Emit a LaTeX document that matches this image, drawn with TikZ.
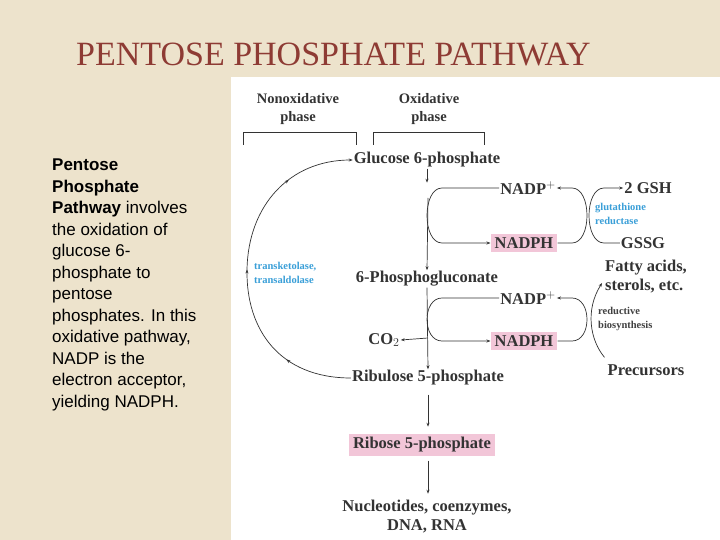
\documentclass[tikz,border=0pt]{standalone}
\usepackage{fontspec}
\setmainfont{Liberation Serif}
\newfontfamily\sans{Liberation Sans}
\usetikzlibrary{arrows.meta,decorations.markings}
\definecolor{bg}{HTML}{EDE3CC}
\definecolor{ttl}{HTML}{8E3B34}
\definecolor{enz}{HTML}{3A9FD8}
\definecolor{pk}{HTML}{F2C6D8}
\tikzset{
 met/.style={font=\bfseries\fontsize{16.5}{19}\selectfont, inner sep=1pt, text=black!80},
 hl/.style={met, fill=pk, inner sep=4pt},
 enzl/.style={font=\bfseries\fontsize{10.5}{14}\selectfont, text=enz, align=left, inner sep=0pt},
 small/.style={font=\bfseries\fontsize{10.5}{14}\selectfont, text=black!75, align=left, inner sep=0pt},
 hdr/.style={font=\bfseries\fontsize{14.5}{18}\selectfont, align=center, inner sep=0pt, text=black!80},
 ln/.style={draw=black!80, line width=0.7pt},
 arr/.style={ln, -{Stealth[length=4pt,width=3pt]}},
}
\begin{document}
\begin{tikzpicture}[x=1pt,y=-1pt]
\fill[bg] (0,0) rectangle (720,540);
\useasboundingbox (0,0) rectangle (720,540);
\fill[white] (231,77) rectangle (720,540);
\node[font=\fontsize{34}{36}\selectfont, text=ttl, anchor=west, inner sep=0pt] (title) at (76,55) {PENTOSE PHOSPHATE PATHWAY};
\node[font=\sans\fontsize{17}{21.5}\selectfont, align=left, anchor=north west, inner sep=0pt] (desc) at (52,159)
 {\textbf{Pentose}\\\textbf{Phosphate}\\\textbf{Pathway} involves\\the oxidation of\\glucose 6-\\phosphate to\\pentose\\phosphates. In this\\oxidative pathway,\\NADP is the\\electron acceptor,\\yielding NADPH.};
% headers
\node[hdr] (h1) at (298,109) {Nonoxidative\\phase};
\node[hdr] (h2) at (429,109) {Oxidative\\phase};
\draw[ln] (243,145) |- (356,132) -- (356,145);
\draw[ln] (373,145) |- (484,132) -- (484,145);
% metabolites
\node[met] (gluc) at (427,160) {Glucose 6-phosphate};
\node[met] (pg) at (427,279) {6-Phosphogluconate};
\node[met] (ribu) at (428,378) {Ribulose 5-phosphate};
\node[hl] (ribo) at (422,445) {Ribose 5-phosphate};
\node[met, align=center] (nuc) at (427,517) {Nucleotides, coenzymes,\\DNA, RNA};
\node[met] (co2) at (384,340) {CO$_2$};
\node[met] (nadp1) at (528,188) {NADP$^+$};
\node[hl] (nadph1) at (524,243) {NADPH};
\node[met] (nadp2) at (528,298) {NADP$^+$};
\node[hl] (nadph2) at (524,341) {NADPH};
\node[met] (gsh) at (648,188) {2 GSH};
\node[met] (gssg) at (643,243) {GSSG};
\node[met, align=left] (fatty) at (646,277) {Fatty acids,\\sterols, etc.};
\node[met] (prec) at (646,370) {Precursors};
\node[enzl, anchor=west] (gr) at (595,214) {glutathione\\reductase};
\node[enzl, anchor=west] (tk) at (254,273) {transketolase,\\transaldolase};
\node[small, anchor=west] (rb) at (598,319) {reductive\\biosynthesis};
% main axis
\draw[arr] (gluc.south) -- ++(0,14) coordinate (a1);
\draw[arr] (428,198) -- (pg.north);
\draw[arr] (pg.south) -- (ribu.north);
\draw[arr] (ribu.south) ++(0,8) -- ++(0,32) coordinate (a2);
\draw[arr] (ribo.south -| 428,0) ++(0,4) -- ++(0,33) coordinate (a3);
% loops
\draw[arr] (nadp1.west) -- (442,188) .. controls (422,188) and (422,243) .. (442,243) -- (nadph1.west);
\draw[arr] (nadph1.east) -- (572,243) .. controls (592,243) and (592,188) .. (572,188) -- (nadp1.east);
\draw[arr] (gssg.west) -- (604,243) .. controls (584,243) and (584,188) .. (604,188) -- (gsh.west);
\draw[arr] (nadp2.west) -- (442,298) .. controls (422,298) and (422,341) .. (442,341) -- (nadph2.west);
\draw[arr] (nadph2.east) -- (572,341) .. controls (592,341) and (592,298) .. (572,298) -- (nadp2.east);
\draw[arr] (prec.north west) ++(-2,-6) .. controls (590,340) and (585,310) .. (602,283) coordinate (fa);
\draw[arr] (428,338) -- (co2.east);
% big arc
\draw[ln, -{Stealth[length=4pt,width=3pt]}, postaction={decorate}, decoration={markings,
  mark=at position 0.2 with {\arrow{Stealth[length=4pt,width=3pt]}},
  mark=at position 0.5 with {\arrow{Stealth[length=4pt,width=3pt]}},
  mark=at position 0.8 with {\arrow{Stealth[length=4pt,width=3pt]}}}]
 (ribu.west) .. controls (280,378) and (246,330) .. (247,270) .. controls (248,205) and (290,160) .. (gluc.west);
\end{tikzpicture}
\end{document}
